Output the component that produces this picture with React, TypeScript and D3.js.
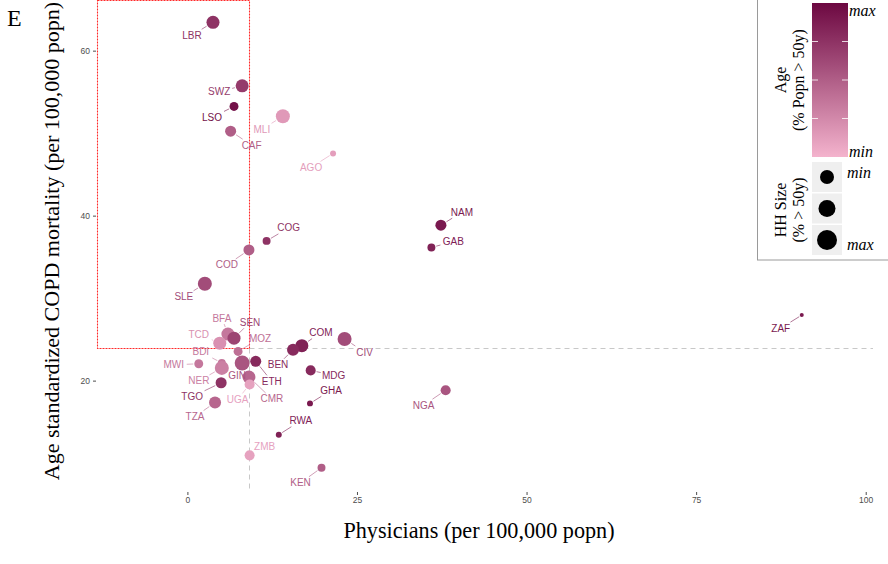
import React from 'react';
import * as d3 from 'd3';

// country codes, physicians per 100k, COPD mortality, age (0-1 relative), household size (relative)
const codes = ['LBR', 'SWZ', 'LSO', 'MLI', 'CAF', 'AGO', 'NAM', 'GAB', 'COG', 'COD', 'SLE', 'ZAF', 'BFA', 'SEN', 'TCD', 'MOZ', 'COM', 'BEN', 'CIV', 'BDI', 'MWI', 'GIN', 'NER', 'ETH', 'MDG', 'CMR', 'UGA', 'GHA', 'TGO', 'TZA', 'NGA', 'RWA', 'ZMB', 'KEN'];
const physicians = [3.7, 8.0, 6.8, 14.0, 6.3, 21.4, 37.3, 35.9, 11.6, 9.0, 2.5, 90.5, 5.9, 6.8, 4.7, 7.4, 16.8, 15.5, 23.1, 5.0, 1.6, 8.0, 5.0, 10.0, 18.1, 9.0, 9.1, 18.0, 4.9, 4.0, 38.0, 13.4, 9.1, 19.7];
const copd = [63.5, 55.8, 53.3, 52.1, 50.3, 47.6, 38.9, 36.2, 37.0, 35.9, 31.8, 28.0, 25.7, 25.2, 24.6, 23.6, 24.3, 23.8, 25.1, 22.2, 22.1, 22.2, 21.6, 22.4, 21.3, 20.5, 19.6, 17.3, 19.8, 17.4, 18.9, 13.5, 11.0, 9.5];
const age = [0.75, 0.7, 0.95, 0.15, 0.5, 0.12, 0.9, 0.85, 0.75, 0.5, 0.6, 0.9, 0.35, 0.65, 0.2, 0.4, 0.85, 0.8, 0.6, 0.35, 0.35, 0.55, 0.3, 0.8, 0.8, 0.45, 0.1, 0.9, 0.75, 0.45, 0.55, 0.85, 0.1, 0.5];
const hhSize = [82, 82, 45, 91, 64, 18, 64, 36, 36, 64, 91, 0, 82, 82, 82, 45, 82, 73, 91, 36, 45, 100, 91, 64, 55, 82, 55, 18, 64, 73, 55, 18, 55, 36];

const xTicks = [0, 25, 50, 75, 100];
const yTicks = [20, 40, 60];
const xCut = 9;
const yCut = 24;

// label placement (pixel offsets from the point, like ggrepel output)
const labelOffsets: Record<string, [number, number]> = {
  LBR: [-21, 13], SWZ: [-23, 6], LSO: [-22, 11], MLI: [-21, 13], CAF: [21, 14], AGO: [-22, 14],
  NAM: [21, -13], GAB: [22, -6], COG: [22, -13], COD: [-22, 15], SLE: [-21, 13], ZAF: [-21, 13],
  BFA: [-6, -16], SEN: [16, -16], TCD: [-21, -9], MOZ: [22, -13], COM: [19, -13], BEN: [-15, 15],
  CIV: [20, 13], BDI: [-21, -11], MWI: [-25, 1], GIN: [-5, 13], NER: [-23, 13], ETH: [16, 20],
  MDG: [23, 5], CMR: [23, 22], UGA: [-12, 15], GHA: [21, -13], TGO: [-29, 14], TZA: [-20, 14],
  NGA: [-22, 15], RWA: [22, -14], ZMB: [15, -9], KEN: [-21, 15],
};

const W = 888;
const H = 564;

const App: React.FC = () => {
  const x = d3.scaleLinear().domain([-13.4, 101]).range([97, 873]);
  const y = d3.scaleLinear().domain([6.8, 66.2]).range([490, 0]);
  const color = d3.scaleLinear<string>().domain([0, 1]).range(['#f4b3cd', '#6c0841']).interpolate(d3.interpolateRgb);
  const r = d3.scaleLinear().domain([0, 100]).range([2, 7.5]);

  const pts = codes.map((c, i) => ({
    code: c,
    px: x(physicians[i]),
    py: y(copd[i]),
    col: color(age[i]),
    rad: r(hhSize[i]),
  }));

  const tickCol = '#4d4d4d';
  const serif = '"Liberation Serif", "Times New Roman", serif';
  const sans = '"Liberation Sans", Arial, sans-serif';

  // legend geometry
  const lgX = 812, lgW = 36, lgTop = 3, lgBot = 157;
  const grad = d3.range(0, 1.0001, 0.1);

  const cutX = Math.round(x(xCut)) + 0.5;
  const cutY = Math.round(y(yCut)) + 0.5;

  return (
    <svg width={W} height={H} style={{ position: 'absolute', left: 0, top: 0, background: '#fff' }}>
      <defs>
        <linearGradient id="ageGrad" x1="0" y1="1" x2="0" y2="0">
          {grad.map(g => (
            <stop key={g} offset={`${g * 100}%`} stopColor={color(g)} />
          ))}
        </linearGradient>
      </defs>

      {/* panel letter */}
      <text x={7} y={26} fontFamily={serif} fontSize={24}>E</text>

      {/* reference lines */}
      <line x1={cutX} x2={873} y1={cutY} y2={cutY} stroke="#c8c8c8" strokeDasharray="5,4" strokeWidth={1} />
      <line x1={cutX} x2={cutX} y1={cutY} y2={490} stroke="#c8c8c8" strokeDasharray="5,4" strokeWidth={1} />
      <path d={`M97.5,0.5 H${cutX} V${cutY} H97.5 Z`} fill="none" stroke="#ff2a2a" strokeDasharray="2,1" strokeWidth={1.1} />

      {/* y axis ticks */}
      {yTicks.map(t => (
        <g key={t}>
          <line x1={93} x2={96} y1={y(t)} y2={y(t)} stroke={tickCol} />
          <text x={90} y={y(t)} dy="0.35em" textAnchor="end" fontFamily={sans} fontSize={8.5} fill={tickCol}>{t}</text>
        </g>
      ))}
      {/* x axis ticks */}
      {xTicks.map(t => (
        <g key={t}>
          <line x1={x(t)} x2={x(t)} y1={492} y2={495} stroke={tickCol} />
          <text x={x(t)} y={503} textAnchor="middle" fontFamily={sans} fontSize={8.5} fill={tickCol}>{t}</text>
        </g>
      ))}

      {/* axis titles */}
      <text x={479} y={538} textAnchor="middle" fontFamily={serif} fontSize={22.2}>Physicians (per 100,000 popn)</text>
      <text transform={`translate(59,${241}) rotate(-90)`} textAnchor="middle" fontFamily={serif} fontSize={22}>
        Age standardized COPD mortality (per 100,000 popn)
      </text>

      {/* leader lines */}
      {pts.map(p => {
        const [dx, dy] = labelOffsets[p.code];
        const len = Math.hypot(dx, dy);
        const t0 = (p.rad + 1) / len;
        const hw = 13, hh = 6;
        const tb = Math.min(dx !== 0 ? hw / Math.abs(dx) : 9, dy !== 0 ? hh / Math.abs(dy) : 9);
        const t1 = 1 - tb;
        if (t1 <= t0) return null;
        return (
          <line key={p.code + 'l'} x1={p.px + dx * t0} y1={p.py + dy * t0} x2={p.px + dx * t1} y2={p.py + dy * t1}
            stroke={p.col} strokeWidth={0.6} />
        );
      })}

      {/* points */}
      {pts.map(p => (
        <circle key={p.code} cx={p.px} cy={p.py} r={p.rad} fill={p.col} />
      ))}

      {/* labels */}
      {pts.map(p => {
        const [dx, dy] = labelOffsets[p.code];
        return (
          <text key={p.code + 't'} x={p.px + dx} y={p.py + dy} dy="0.35em" textAnchor="middle"
            fontFamily={sans} fontSize={10} fill={p.col}>{p.code}</text>
        );
      })}

      {/* legend */}
      <rect x={757.5} y={-1} width={140} height={261} fill="#fff" stroke="#9a9a9a" strokeWidth={1} />
      <rect x={lgX} y={lgTop} width={lgW} height={lgBot - lgTop} fill="url(#ageGrad)" />
      {[0.25, 0.5, 0.75].map(f => {
        const yy = lgBot - f * (lgBot - lgTop);
        return (
          <g key={f}>
            <line x1={lgX} x2={lgX + 6} y1={yy} y2={yy} stroke="#fff" strokeWidth={0.8} />
            <line x1={lgX + lgW - 6} x2={lgX + lgW} y1={yy} y2={yy} stroke="#fff" strokeWidth={0.8} />
          </g>
        );
      })}
      <text x={849} y={16} fontFamily={serif} fontStyle="italic" fontSize={16}>max</text>
      <text x={849} y={157} fontFamily={serif} fontStyle="italic" fontSize={16}>min</text>
      <text transform="translate(786,80) rotate(-90)" textAnchor="middle" fontFamily={serif} fontSize={16}>
        <tspan x={0} y={0}>Age</tspan>
        <tspan x={0} y={18}>(% Popn &gt; 50y)</tspan>
      </text>

      {[7, 8.5, 10].map((rr, i) => {
        const cy = 177 + i * 31.5;
        return (
          <g key={i}>
            <rect x={812} y={cy - 15} width={30} height={30} fill="#efefef" />
            <circle cx={827} cy={cy} r={rr} fill="#000" />
          </g>
        );
      })}
      <text x={847} y={178} fontFamily={serif} fontStyle="italic" fontSize={16}>min</text>
      <text x={847} y={250} fontFamily={serif} fontStyle="italic" fontSize={16}>max</text>
      <text transform="translate(786,210) rotate(-90)" textAnchor="middle" fontFamily={serif} fontSize={16}>
        <tspan x={0} y={0}>HH Size</tspan>
        <tspan x={0} y={18}>(% &gt; 50y)</tspan>
      </text>
    </svg>
  );
};

export default App;
